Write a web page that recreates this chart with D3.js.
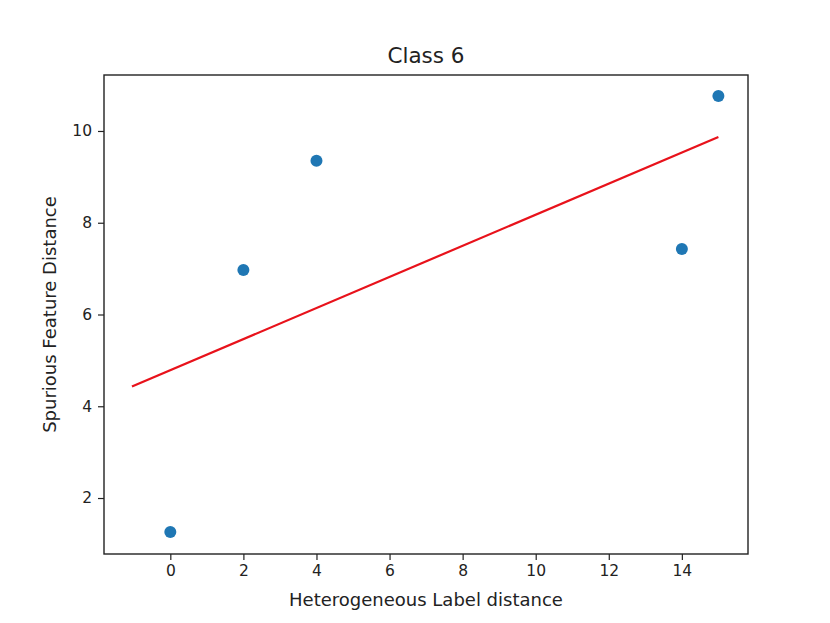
<!DOCTYPE html>
<html><head><meta charset="utf-8">
<script src="https://cdn.jsdelivr.net/npm/d3@7"></script>
<style>
html,body{margin:0;padding:0;background:#fff;}
text{font-family:"DejaVu Sans",sans-serif;fill:#222;}
</style></head>
<body>
<svg id="chart" width="830" height="623"></svg>
<script>
const title = "Class 6";
const xLabel = "Heterogeneous Label distance";
const yLabel = "Spurious Feature Distance";
const pointX = [0, 2, 4, 14, 15];
const pointY = [1.26, 6.97, 9.35, 7.43, 10.76];
const fitX = [-1.05, 15];
const fitY = [4.43, 9.87];
const xTicks = [0, 2, 4, 6, 8, 10, 12, 14];
const yTicks = [2, 4, 6, 8, 10];
const xDomain = [-1.815, 15.81];
const yDomain = [0.78, 11.22];

const svg = d3.select("#chart");
const L = 104, R = 748, T = 75, B = 554;
const x = d3.scaleLinear().domain(xDomain).range([L, R]);
const y = d3.scaleLinear().domain(yDomain).range([B, T]);

const xAxis = svg.append("g").attr("transform", `translate(0,${B})`)
  .call(d3.axisBottom(x).tickValues(xTicks).tickSize(6).tickPadding(5).tickFormat(d3.format("d")));
const yAxis = svg.append("g").attr("transform", `translate(${L},0)`)
  .call(d3.axisLeft(y).tickValues(yTicks).tickSize(6).tickPadding(6).tickFormat(d3.format("d")));
[xAxis, yAxis].forEach(a => {
  a.select(".domain").remove();
  a.selectAll("line").attr("stroke", "#222").attr("stroke-width", 1.2);
  a.selectAll("text").attr("font-size", 15.5).attr("fill", "#222")
    .style("font-family", '"DejaVu Sans",sans-serif');
});

svg.append("rect").attr("x", L).attr("y", T).attr("width", R - L).attr("height", B - T)
  .attr("fill", "none").attr("stroke", "#222").attr("stroke-width", 1.4);

svg.append("g").selectAll("circle").data(pointX.map((d, i) => [d, pointY[i]]))
  .join("circle").attr("cx", d => x(d[0])).attr("cy", d => y(d[1])).attr("r", 6)
  .attr("fill", "#1f77b4");

const line = d3.line().x(d => x(d[0])).y(d => y(d[1]));
svg.append("path").datum(fitX.map((d, i) => [d, fitY[i]]))
  .attr("d", line).attr("fill", "none").attr("stroke", "#e8121b").attr("stroke-width", 2.2);

svg.append("text").attr("x", (L + R) / 2).attr("y", 63).attr("text-anchor", "middle")
  .attr("font-size", 21.5).text(title);
svg.append("text").attr("x", (L + R) / 2).attr("y", 606).attr("text-anchor", "middle")
  .attr("font-size", 18).text(xLabel);
svg.append("text").attr("transform", `translate(56,${(T + B) / 2}) rotate(-90)`)
  .attr("text-anchor", "middle").attr("font-size", 18).text(yLabel);
</script>
</body></html>
